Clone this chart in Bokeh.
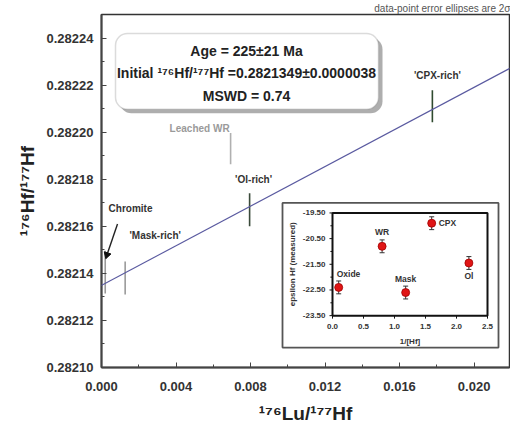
import math
from bokeh.plotting import figure
from bokeh.models import (Range1d, Slope, Label, BoxAnnotation, ColumnDataSource,
                          PrintfTickFormatter, FixedTicker)
from bokeh.core.properties import value
from bokeh.embed import file_html
from bokeh.resources import INLINE

# ---------------- data ----------------
samples = ["Chromite", "'Mask-rich'", "'Ol-rich'", "'CPX-rich'", "Leached WR"]
lu_hf = [0.0002, 0.00127, 0.00795, 0.01776, 0.00693]
hf_hf = [0.2821405, 0.282138, 0.282167, 0.282211, 0.282193]
hf_err = [0.0000091, 0.0000070, 0.0000070, 0.0000068, 0.0000066]

age_ma = 225
age_err = 21
initial_ratio = 0.2821349
initial_err = 0.0000038
mswd = 0.74
lambda_lu = 1.867e-11

x_ticks = [0.000, 0.004, 0.008, 0.012, 0.016, 0.020]
x_minor = [0.002, 0.006, 0.010, 0.014, 0.018]
y_ticks = [0.28210, 0.28212, 0.28214, 0.28216, 0.28218, 0.28220, 0.28222, 0.28224]
y_minor = [0.28211, 0.28213, 0.28215, 0.28217, 0.28219, 0.28221, 0.28223]

inset_names = ["Oxide", "WR", "Mask", "CPX", "Ol"]
inv_hf = [0.10, 0.80, 1.18, 1.60, 2.20]
eps_hf = [-22.40, -20.80, -22.60, -19.90, -21.45]
eps_err = [0.25, 0.25, 0.25, 0.25, 0.25]
inset_x_ticks = [0.0, 0.5, 1.0, 1.5, 2.0, 2.5]
inset_y_ticks = [-19.5, -20.5, -21.5, -22.5, -23.5]
inset_y_minor = [-20.0, -21.0, -22.0, -23.0]

# ---------------- layout constants ----------------
W, H = 510, 434
FL, FR, FT, FB = 101, 509, 13, 367
X0, X1 = 0.0, 0.0219
Y0, Y1 = 0.28210, 0.28225
FONT = "Liberation Sans"

def px_x(px):
    return X0 + (px - FL) / (FR - FL) * (X1 - X0)

def px_y(py):
    return Y1 - (py - FT) / (FB - FT) * (Y1 - Y0)

p = figure(width=W, height=H, x_range=Range1d(X0, X1), y_range=Range1d(Y0 - 1e-9, Y1),
           output_backend="svg", toolbar_location=None,
           min_border_left=FL, min_border_right=W - FR, min_border_top=0,
           min_border_bottom=H - FB)
p.title.text = "data-point error ellipses are 2\u03c3"
p.title.align = "right"
p.title.text_font = FONT
p.title.text_font_style = "normal"
p.title.text_font_size = "10px"
p.title.text_color = "#555555"
p.title.standoff = 1
p.title.offset = -1
p.grid.visible = False
p.outline_line_color = "#333333"
p.outline_line_width = 1.5
p.background_fill_color = "white"
p.border_fill_color = "white"

for ax in (p.xaxis[0], p.yaxis[0]):
    ax.axis_line_color = "#444444"
    ax.axis_line_width = 2
    ax.major_tick_in = 5
    ax.major_tick_out = 0
    ax.minor_tick_in = 3
    ax.minor_tick_out = 0
    ax.major_tick_line_color = "#444444"
    ax.minor_tick_line_color = "#444444"
    ax.major_label_text_font = FONT
    ax.major_label_text_font_style = "bold"
    ax.major_label_text_font_size = "13px"
    ax.major_label_text_color = "#333333"
    ax.axis_label_text_font = FONT
    ax.axis_label_text_font_style = "bold"
    ax.axis_label_text_font_size = "19px"
    ax.axis_label_text_color = "#222222"

p.xaxis.ticker = FixedTicker(ticks=x_ticks, minor_ticks=x_minor)
p.yaxis.ticker = FixedTicker(ticks=y_ticks, minor_ticks=y_minor)
p.xaxis.formatter = PrintfTickFormatter(format="%.3f")
p.yaxis.formatter = PrintfTickFormatter(format="%.5f")
p.xaxis.major_label_standoff = 14
p.yaxis.major_label_standoff = 8
p.xaxis.axis_label = "\u00b9\u2077\u2076Lu/\u00b9\u2077\u2077Hf"
p.yaxis.axis_label = "\u00b9\u2077\u2076Hf/\u00b9\u2077\u2077Hf"
p.xaxis.axis_label_standoff = 9
p.yaxis.axis_label_standoff = 6

# isochron
slope = math.exp(lambda_lu * age_ma * 1e6) - 1
p.add_layout(Slope(gradient=slope, y_intercept=initial_ratio,
                   line_color="#5a5aa0", line_width=1.3))

# error bars of main data
bar_colors = ["#9a9a9a", "#9a9a9a", "#3a4a3a", "#2f4a2f", "#b0b0b0"]
src = ColumnDataSource(dict(
    x=lu_hf, y=hf_hf,
    lo=[v - e for v, e in zip(hf_hf, hf_err)],
    hi=[v + e for v, e in zip(hf_hf, hf_err)],
    name=samples, color=bar_colors,
))
p.segment(x0="x", y0="lo", x1="x", y1="hi", source=src, line_color="color", line_width=1.6)

# labels attached to bars (chromite is annotated with an arrow)
lab_dx = [0, 30, 4, 5, -1]
lab_dy = [0, -26, -14, -15, -5]
lab_align = ["center", "center", "center", "center", "right"]
lab_color = ["#333333", "#333333", "#333333", "#333333", "#9a9a9a"]
lab_src = ColumnDataSource(dict(
    x=lu_hf[1:], y=[v + e for v, e in zip(hf_hf[1:], hf_err[1:])],
    t=samples[1:], dx=lab_dx[1:], dy=lab_dy[1:], al=lab_align[1:], c=lab_color[1:]))
p.text(x="x", y="y", text="t", x_offset="dx", y_offset="dy", text_align="al",
       text_baseline="middle", text_color="c", text_font=value(FONT),
       text_font_style="bold", text_font_size="10px", source=lab_src)

p.text(x=[px_x(130)], y=[px_y(208)], text=[samples[0]], text_align="center",
       text_baseline="middle", text_font=value(FONT), text_font_style="bold",
       text_font_size="10px", text_color="#333333")
# arrow: shaft + head
ax0, ay0 = px_x(117), px_y(223)
ax1, ay1 = px_x(106.5), px_y(254)
p.line(x=[ax0, ax1], y=[ay0, ay1], line_color="#222222", line_width=1.4)
p.scatter(x=[ax1], y=[ay1], marker="triangle", size=7, angle=math.pi - math.atan2(11, 35),
          fill_color="#111111", line_color="#111111")

# result box with shadow
bl, br, bt, bb = px_x(115), px_x(378), px_y(32), px_y(108)
dxs, dys = px_x(119) - px_x(115), px_y(36) - px_y(32)
p.add_layout(BoxAnnotation(left=bl + dxs, right=br + dxs, top=bt + dys, bottom=bb + dys,
                           fill_color="#9a9a9a", fill_alpha=0.8, line_color=None,
                           border_radius=12))
p.add_layout(BoxAnnotation(left=bl, right=br, top=bt, bottom=bb, fill_color="white",
                           fill_alpha=1.0, line_color="#888888", line_width=1.5,
                           border_radius=12))
box_lines = [f"Age = {age_ma}\u00b1{age_err} Ma",
             f"Initial \u00b9\u2077\u2076Hf/\u00b9\u2077\u2077Hf ={initial_ratio:.7f}\u00b1{initial_err:.7f}",
             f"MSWD = {mswd}"]
for txt, py in zip(box_lines, [50, 72, 95]):
    p.add_layout(Label(x=px_x(246), y=px_y(py), text=txt, text_align="center",
                       text_baseline="middle", text_font=FONT, text_font_style="bold",
                       text_font_size="14px", text_color="#222222"))

# ---------------- inset (own ranges) ----------------
IL, IR, IT, IB = 332, 487, 212, 315
ix0, ix1 = inset_x_ticks[0], inset_x_ticks[-1]
iy0, iy1 = inset_y_ticks[-1], inset_y_ticks[0]
sx = (IR - IL) / (ix1 - ix0)
sy = (IB - IT) / (iy1 - iy0)
p.extra_x_ranges = {"ix": Range1d(ix0 - (IL - FL) / sx, ix1 + (FR - IR) / sx)}
p.extra_y_ranges = {"iy": Range1d(iy0 - (FB - IB) / sy, iy1 + (IT - FT) / sy)}

def ipx_x(px):
    return ix0 + (px - IL) / sx

def ipx_y(py):
    return iy1 - (py - IT) / sy

kw = dict(x_range_name="ix", y_range_name="iy")
p.quad(left=ipx_x(282), right=ipx_x(498), top=ipx_y(202), bottom=ipx_y(347),
       fill_color="white", line_color="#555555", line_width=1.8, **kw)
p.quad(left=ix0, right=ix1, top=iy1, bottom=iy0, fill_color=None,
       line_color="#111111", line_width=2, **kw)

# inset ticks
tk = 3 / sx
p.segment(x0=[ix0 - tk] * len(inset_y_ticks), x1=[ix0] * len(inset_y_ticks),
          y0=inset_y_ticks, y1=inset_y_ticks, line_color="#111111", line_width=1, **kw)
p.segment(x0=[ix0 - tk * 0.7] * len(inset_y_minor), x1=[ix0] * len(inset_y_minor),
          y0=inset_y_minor, y1=inset_y_minor, line_color="#111111", line_width=1, **kw)
tky = 3 / sy
p.segment(x0=inset_x_ticks, x1=inset_x_ticks, y0=[iy0] * len(inset_x_ticks),
          y1=[iy0 - tky] * len(inset_x_ticks), line_color="#111111", line_width=1, **kw)
p.text(x=[ix0] * len(inset_y_ticks), y=inset_y_ticks,
       text=[f"{v:.2f}" for v in inset_y_ticks], x_offset=-7, text_align="right",
       text_baseline="middle", text_font=value(FONT), text_font_style="bold",
       text_font_size="8px", text_color="#333333", **kw)
p.text(x=inset_x_ticks, y=[iy0] * len(inset_x_ticks),
       text=[f"{v:.1f}" for v in inset_x_ticks], y_offset=8, text_align="center",
       text_baseline="top", text_font=value(FONT), text_font_style="bold",
       text_font_size="8px", text_color="#333333", **kw)
p.text(x=[(ix0 + ix1) / 2], y=[iy0], text=["1/[Hf]"], y_offset=21, text_align="center",
       text_baseline="top", text_font=value(FONT), text_font_style="bold",
       text_font_size="8px", text_color="#333333", **kw)
p.text(x=[ix0], y=[(iy0 + iy1) / 2], text=["epsilon Hf (measured)"], x_offset=-40,
       angle=math.pi / 2, text_align="center", text_baseline="middle",
       text_font=value(FONT), text_font_style="bold", text_font_size="8px",
       text_color="#333333", **kw)

isrc = ColumnDataSource(dict(
    x=inv_hf, y=eps_hf,
    lo=[v - e for v, e in zip(eps_hf, eps_err)],
    hi=[v + e for v, e in zip(eps_hf, eps_err)],
    name=inset_names,
))
p.segment(x0="x", y0="lo", x1="x", y1="hi", source=isrc, line_color="#333333",
          line_width=1, **kw)
p.scatter(x="x", y="lo", source=isrc, marker="dash", size=5, line_color="#333333", **kw)
p.scatter(x="x", y="hi", source=isrc, marker="dash", size=5, line_color="#333333", **kw)
p.scatter(x="x", y="y", source=isrc, marker="circle", size=8, fill_color="#e01515",
          line_color="#a00000", line_width=0.8, **kw)

i_dx = [-2, 0, 0, 7, 0]
i_dy = [-13, -14, -14, 0, 13]
i_align = ["left", "center", "center", "left", "center"]
il_src = ColumnDataSource(dict(x=inv_hf, y=eps_hf, t=inset_names, dx=i_dx, dy=i_dy, al=i_align))
p.text(x="x", y="y", text="t", x_offset="dx", y_offset="dy", text_align="al",
       text_baseline="middle", text_font=value(FONT), text_font_style="bold",
       text_font_size="8.5px", text_color="#333333", source=il_src, **kw)

open("out.html", "w").write(file_html(p, INLINE))
